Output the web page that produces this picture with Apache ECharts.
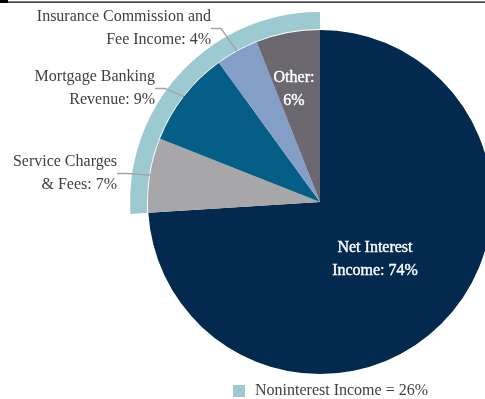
<!DOCTYPE html>
<html>
<head>
<meta charset="utf-8">
<script src="https://cdn.jsdelivr.net/npm/echarts@6/dist/echarts.min.js"></script>
<style>
  html, body { margin: 0; padding: 0; background: #fff; }
  #chart { width: 485px; height: 399px; }
</style>
</head>
<body>
<div id="chart"></div>
<script>
// Revenue mix, percent of total
const categories = [
  'Net Interest\nIncome',
  'Service Charges\n& Fees',
  'Mortgage Banking\nRevenue',
  'Insurance Commission and\nFee Income',
  'Other'
];
const shares = [74, 7, 9, 4, 6];
const sliceColors = ['#03294f', '#a7a7a9', '#055e86', '#849fc7', '#6b6870'];

// Everything except net interest income counts as noninterest income
const noninterestLabel = 'Noninterest Income';
const noninterestShare = shares.slice(1).reduce((a, b) => a + b, 0);
const legendName = noninterestLabel + ' = ' + noninterestShare + '%';

const FONT = "'Liberation Serif', 'Times New Roman', serif";
const TEXT = '#404040';

// Where each slice label sits (anchor point + alignment)
const labelPlacement = [
  { x: 375, y: 259, align: 'center' },
  { x: 117, y: 173.5, align: 'right' },
  { x: 155, y: 88.5, align: 'right' },
  { x: 211, y: 28.5, align: 'right' },
  { x: 294, y: 89, align: 'center' }
];
const insideSlices = [0, 4];

const chart = echarts.init(document.getElementById('chart'), null, { renderer: 'canvas' });

const pieData = categories.map((name, i) => {
  const inside = insideSlices.includes(i);
  return {
    name: name,
    value: shares[i],
    itemStyle: { color: sliceColors[i] },
    label: inside
      ? { color: '#ffffff', textBorderColor: '#ffffff', textBorderWidth: 0.4 }
      : { color: TEXT },
    labelLine: { show: !inside }
  };
});

chart.setOption({
  animation: false,
  backgroundColor: '#ffffff',
  graphic: [
    { type: 'rect', shape: { x: 0, y: 0, width: 8, height: 3 }, style: { fill: '#000' } },
    { type: 'rect', shape: { x: 0, y: 1.5, width: 485, height: 1.3 }, style: { fill: '#000' } }
  ],
  legend: {
    data: [legendName],
    selectedMode: false,
    left: 228,
    top: 378,
    icon: 'rect',
    itemWidth: 12,
    itemHeight: 12,
    textStyle: { fontFamily: FONT, fontSize: 16, color: TEXT, padding: [0, 0, 0, 5] }
  },
  series: [
    {
      // outer band marking the noninterest share
      type: 'pie',
      z: 1,
      silent: true,
      center: [320, 202],
      radius: [173, 190],
      startAngle: 90,
      label: { show: false },
      labelLine: { show: false },
      emphasis: { disabled: true },
      data: [
        { name: '', value: shares[0], itemStyle: { color: 'rgba(0,0,0,0)' } },
        { name: legendName, value: noninterestShare, itemStyle: { color: '#9dcad1' } }
      ]
    },
    {
      type: 'pie',
      z: 2,
      silent: true,
      center: [320, 202],
      radius: [0, 172],
      startAngle: 90,
      avoidLabelOverlap: false,
      emphasis: { disabled: true },
      label: {
        show: true,
        position: 'outside',
        fontFamily: FONT,
        fontSize: 16,
        lineHeight: 23,
        color: TEXT,
        formatter: p => p.name + ':' + (p.name.includes('\n') ? ' ' : '\n') + p.value + '%'
      },
      labelLine: {
        show: true,
        length: 10,
        length2: 10,
        lineStyle: { color: '#a3a3a3', width: 1.3 }
      },
      labelLayout: params => {
        const pos = labelPlacement[params.dataIndex];
        return { x: pos.x, y: pos.y, align: pos.align, verticalAlign: 'middle' };
      },
      data: pieData
    }
  ]
});
</script>
</body>
</html>
